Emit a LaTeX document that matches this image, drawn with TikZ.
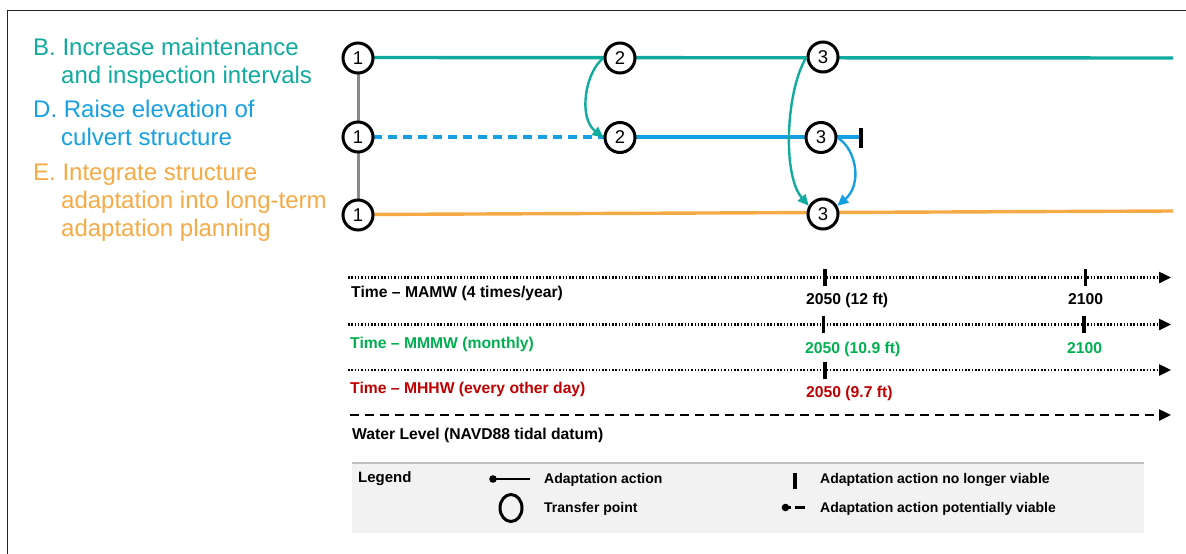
\documentclass[tikz,border=0pt]{standalone}
\usepackage{fontspec}
\setmainfont{Liberation Sans}
\usetikzlibrary{arrows.meta}
\definecolor{cteal}{RGB}{16,170,158}
\definecolor{cblue}{RGB}{22,160,226}
\definecolor{corange}{RGB}{246,170,70}
\definecolor{cgreen}{RGB}{0,176,80}
\definecolor{cred}{RGB}{192,0,0}
\definecolor{cgray}{RGB}{138,138,138}
\definecolor{legfill}{RGB}{242,242,242}
\definecolor{legline}{RGB}{191,191,191}
\definecolor{framecol}{RGB}{34,34,34}
\tikzset{
  tp/.style={circle,draw=black,line width=3pt,fill=white,minimum size=30pt,inner sep=0pt,font=\fontsize{18.5}{18.5}\selectfont},
  bigtxt/.style={anchor=base west,inner sep=0pt,font=\fontsize{24}{26}\selectfont},
  tltxt/.style={anchor=base west,inner sep=0pt,font=\fontsize{15.7}{17}\selectfont\bfseries},
  legtxt/.style={anchor=base west,inner sep=0pt,font=\fontsize{14}{16}\selectfont\bfseries},
  rowline/.style={line width=3.4pt},
  curvearrow/.style={line width=2.4pt,-{Triangle[length=11pt,width=10pt]}},
  dotline/.style={line width=2.4pt,dash pattern=on 1.5pt off 1.8pt,-{Triangle[length=12pt,width=11pt]}},
  dashline/.style={line width=2.4pt,dash pattern=on 9pt off 6pt,-{Triangle[length=12pt,width=11pt]}},
  tick/.style={line width=3.2pt},
}
\begin{document}
\begin{tikzpicture}[x=1pt,y=-1pt]
\useasboundingbox (0,0) rectangle (1186,554);
% frame
\draw[framecol,line width=1.3pt] (7.3,554) -- (7.3,10.5) -- (1186,10.5);

% left labels
\node[bigtxt,text=cteal] (lb1) at (33,55) {B. Increase maintenance};
\node[bigtxt,text=cteal] (lb2) at (61,83) {and inspection intervals};
\node[bigtxt,text=cblue] (ld1) at (33,117) {D. Raise elevation of};
\node[bigtxt,text=cblue] (ld2) at (61,145) {culvert structure};
\node[bigtxt,text=corange] (le1) at (33,180) {E. Integrate structure};
\node[bigtxt,text=corange] (le2) at (61,208) {adaptation into long-term};
\node[bigtxt,text=corange] (le3) at (61,236) {adaptation planning};

% coordinates for pathway nodes
\coordinate (aend) at (1173,58);
\coordinate (cend) at (1173,211);
\coordinate (stop) at (861,137);

% gray connector
\draw[cgray,line width=3pt] (358,58) -- (358,214);
% row lines
\draw[cteal,rowline] (358,57.5) -- (aend);
\draw[corange,rowline] (358,214.5) -- (cend);
\draw[cblue,line width=3.4pt,dash pattern=on 9pt off 6pt] (373,137) -- (604,137);
\draw[cblue,rowline] (620,137) -- (stop);
\draw[black,line width=3.2pt] (861,127.5) -- (861,147.5);

% transfer points
\node[tp] (a1) at (358,58) {1};
\node[tp] (b1) at (358,137) {1};
\node[tp] (c1) at (358,215) {1};
\node[tp] (a2) at (620,58) {2};
\node[tp] (b2) at (620,137.5) {2};
\node[tp] (a3) at (823,57) {3};
\node[tp] (b3) at (821,137.5) {3};
\node[tp] (c3) at (823,214) {3};

% transfer arrows
\draw[cteal,curvearrow] (a2.west) .. controls (585,72) and (578,118) .. (b2.west);
\draw[cteal,curvearrow] (a3.west) .. controls (786,90) and (782,175) .. (c3.150);
\draw[cblue,curvearrow] (b3.east) .. controls (857,150) and (862,185) .. (c3.30);

% timelines
\coordinate (t1s) at (348,277.5); \coordinate (t1e) at (1171,277.5);
\coordinate (t2s) at (348,324.5); \coordinate (t2e) at (1171,324.5);
\coordinate (t3s) at (348,370); \coordinate (t3e) at (1171,370);
\coordinate (t4s) at (350,415); \coordinate (t4e) at (1171,415);
\draw[dotline] (t1s) -- (t1e);
\draw[dotline] (t2s) -- (t2e);
\draw[dotline] (t3s) -- (t3e);
\draw[dashline] (t4s) -- (t4e);
\draw[tick] (825,269) -- (825,286);
\draw[tick] (1085.5,269) -- (1085.5,286);
\draw[tick] (823.5,316) -- (823.5,333);
\draw[tick] (1084,316) -- (1084,333);
\draw[tick] (825,361.5) -- (825,378.5);

\node[tltxt] (l1) at (351,297) {Time – MAMW (4 times/year)};
\node[tltxt] (y1a) at (806,304) {2050 (12 ft)};
\node[tltxt] (y1b) at (1068,304.5) {2100};
\node[tltxt,text=cgreen] (l2) at (350,348.5) {Time – MMMW (monthly)};
\node[tltxt,text=cgreen] (y2a) at (805,353) {2050 (10.9 ft)};
\node[tltxt,text=cgreen] (y2b) at (1067,353) {2100};
\node[tltxt,text=cred] (l3) at (350,393.5) {Time – MHHW (every other day)};
\node[tltxt,text=cred] (y3a) at (806,397) {2050 (9.7 ft)};
\node[tltxt] (l4) at (352,439) {Water Level (NAVD88 tidal datum)};

% legend
\fill[legfill] (351.5,463) rectangle (1143.5,533);
\draw[legline,line width=1.2pt] (351.5,463) -- (1143.5,463);
\node[legtxt,font=\fontsize{15}{17}\selectfont\bfseries] (leg) at (358,482) {Legend};
\fill (493,479) circle (3.8pt);
\draw[line width=2.6pt] (493,479) -- (530,479);
\node[legtxt] (lg1) at (544,483) {Adaptation action};
\draw[line width=3pt] (511,508) ellipse (11pt and 13.5pt);
\node[legtxt] (lg2) at (544,512.7) {Transfer point};
\draw[line width=3.4pt] (795,472.5) -- (795,488.5);
\node[legtxt] (lg3) at (820,483) {Adaptation action no longer viable};
\fill (785.5,507.5) circle (3.8pt);
\draw[line width=2.6pt] (785.5,507.5) -- (790.5,507.5);
\draw[line width=2.8pt] (795,507.5) -- (805,507.5);
\node[legtxt] (lg4) at (820,512.7) {Adaptation action potentially viable};
\end{tikzpicture}
\end{document}
